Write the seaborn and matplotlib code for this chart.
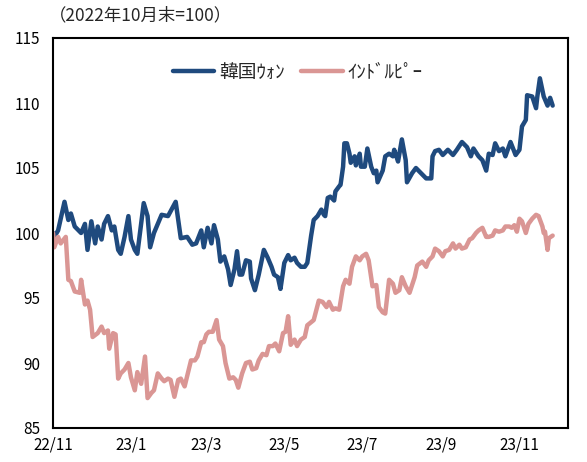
import matplotlib
matplotlib.use("Agg")
import matplotlib.pyplot as plt
import seaborn as sns
import pandas as pd

# ---- data (index, end of Oct 2022 = 100) ----
base_date = "2022-11-01"
won_day = [0, 1, 4, 9, 12, 14, 17, 20, 22, 25, 27, 30, 33, 35, 38, 40, 43, 46, 48, 51, 53, 56, 59, 61, 64,
           66, 69, 71, 74, 76, 79, 85, 90, 96, 100, 105, 109, 112, 116, 118, 121, 124, 126, 129, 131, 134,
           137, 139, 142, 144, 146, 148, 151, 154, 155, 158, 161, 165, 168, 171, 173, 176, 178, 181, 184,
           186, 189, 191, 194, 197, 199, 202, 204, 207, 210, 212, 213, 215, 217, 220, 221, 224, 225, 227,
           228, 230, 232, 233, 236, 237, 240, 241, 244, 246, 249, 251, 253, 254, 258, 260, 263, 266, 267,
           270, 273, 276, 277, 281, 284, 286, 289, 292, 296, 297, 299, 302, 305, 309, 313, 316, 320, 324,
           327, 329, 333, 336, 339, 341, 344, 346, 349, 352, 354, 358, 362, 365, 367, 370, 371, 375, 378,
           379, 381, 384, 387, 389, 391]
won_val = [100.0, 99.7, 100.2, 102.4, 101.0, 101.5, 100.5, 100.2, 100.0, 100.7, 98.7, 100.9, 99.2, 100.5,
           99.5, 100.7, 101.3, 100.2, 100.5, 98.7, 98.4, 99.7, 101.3, 99.5, 98.7, 98.4, 100.7, 102.3, 101.3,
           98.9, 100.0, 101.4, 101.3, 102.4, 99.6, 99.7, 99.1, 99.2, 100.2, 98.9, 100.4, 99.2, 100.6, 99.5,
           97.8, 98.2, 97.2, 96.0, 97.2, 98.6, 96.8, 96.8, 97.9, 97.8, 96.5, 95.6, 96.8, 98.7, 98.1, 97.4,
           96.8, 96.6, 95.7, 97.7, 98.3, 97.9, 98.1, 97.7, 97.4, 97.4, 97.7, 99.8, 101.0, 101.3, 101.8,
           101.4, 101.3, 102.7, 102.8, 102.5, 103.2, 103.6, 103.7, 105.1, 106.9, 106.9, 106.1, 105.4, 105.9,
           105.2, 106.1, 105.1, 105.1, 106.5, 105.1, 104.6, 104.8, 103.9, 104.8, 105.9, 106.1, 105.9, 106.4,
           105.5, 107.2, 105.6, 103.9, 104.6, 105.0, 104.8, 104.5, 104.2, 104.2, 105.9, 106.3, 106.4, 106.0,
           106.4, 106.0, 106.4, 107.0, 106.6, 105.9, 106.5, 105.9, 105.6, 104.8, 106.1, 106.0, 106.9, 106.3,
           106.5, 105.9, 107.0, 106.0, 106.4, 108.2, 108.7, 110.6, 110.5, 109.6, 110.5, 111.9, 110.5, 109.8,
           110.4, 109.8]

inr_day = [0, 1, 4, 6, 10, 12, 14, 17, 21, 22, 25, 27, 29, 31, 35, 38, 40, 43, 44, 47, 49, 51, 53, 56, 59,
           61, 64, 66, 69, 72, 74, 77, 79, 82, 85, 87, 90, 92, 95, 98, 100, 103, 105, 108, 111, 113, 116,
           118, 120, 122, 125, 128, 130, 133, 135, 138, 141, 143, 145, 148, 151, 154, 156, 159, 161, 164,
           167, 169, 172, 174, 177, 180, 182, 184, 186, 189, 191, 194, 197, 199, 204, 208, 211, 214, 216,
           219, 221, 224, 227, 229, 232, 234, 237, 240, 242, 245, 247, 250, 253, 255, 258, 260, 263, 266,
           268, 271, 273, 276, 279, 283, 285, 289, 292, 294, 297, 299, 302, 305, 307, 310, 313, 315, 318,
           320, 323, 326, 328, 331, 333, 336, 339, 341, 344, 346, 349, 352, 354, 357, 359, 361, 363, 365,
           367, 370, 372, 375, 378, 380, 383, 384, 385, 387, 388, 391]
inr_val = [100.0, 98.9, 99.7, 99.2, 99.7, 96.4, 96.3, 95.5, 95.4, 96.4, 94.5, 94.8, 94.1, 92.0, 92.3, 92.8,
           92.3, 92.5, 91.1, 92.3, 92.2, 88.8, 89.2, 89.5, 90.0, 88.9, 87.9, 89.3, 88.4, 90.5, 87.3, 87.7,
           87.9, 89.2, 88.8, 88.6, 88.8, 88.7, 87.4, 88.7, 88.8, 88.2, 89.0, 90.2, 90.2, 90.5, 91.6, 91.6,
           92.2, 92.4, 92.4, 93.3, 91.8, 91.3, 90.0, 88.8, 88.9, 88.7, 88.1, 89.2, 90.0, 90.1, 89.5, 89.6,
           90.2, 90.7, 90.6, 91.3, 91.3, 91.5, 90.9, 92.3, 92.4, 93.6, 91.4, 91.8, 91.3, 91.8, 92.0, 92.9,
           93.3, 94.8, 94.7, 94.3, 94.7, 94.1, 94.2, 94.1, 95.9, 96.4, 96.1, 97.4, 98.2, 97.9, 98.2, 98.4,
           97.9, 95.9, 96.0, 94.3, 93.9, 93.8, 96.4, 96.1, 95.4, 95.6, 96.6, 95.9, 95.4, 96.6, 97.5, 97.8,
           97.4, 97.9, 98.2, 98.8, 98.6, 98.2, 98.6, 98.7, 99.2, 98.8, 99.1, 98.8, 98.9, 99.5, 99.6, 100.0,
           100.2, 100.4, 99.7, 99.7, 99.8, 100.2, 100.1, 100.2, 100.5, 100.5, 100.4, 100.6, 100.1, 101.1,
           100.9, 100.0, 100.7, 101.1, 101.4, 101.3, 100.5, 100.0, 100.1, 98.7, 99.6, 99.8]

series_names = ["韓国ｳｫﾝ", "ｲﾝﾄﾞﾙﾋﾟｰ"]
series_colors = ["#1F4A7E", "#DA9694"]
tick_dates = ["2022-11-01", "2023-01-01", "2023-03-01", "2023-05-01", "2023-07-01", "2023-09-01", "2023-11-01"]
tick_labels = ["22/11", "23/1", "23/3", "23/5", "23/7", "23/9", "23/11"]
y_ticks = [85, 90, 95, 100, 105, 110, 115]
title_text = "（2022年10月末=100）"

# ---- build long table ----
t0 = pd.Timestamp(base_date)
df = pd.concat([
    pd.DataFrame({"date": t0 + pd.to_timedelta(won_day, unit="D"), "value": won_val, "series": series_names[0]}),
    pd.DataFrame({"date": t0 + pd.to_timedelta(inr_day, unit="D"), "value": inr_val, "series": series_names[1]}),
], ignore_index=True)

sns.set_style("white")
plt.rcParams["font.family"] = ["Noto Sans CJK JP", "DejaVu Sans"]

fig = plt.figure(figsize=(5.87, 4.62), dpi=100)
ax = fig.add_axes([53 / 587, 34 / 462, 515 / 587, 390 / 462])

sns.lineplot(data=df, x="date", y="value", hue="series", hue_order=series_names,
             palette=series_colors, linewidth=3.2, estimator=None, ax=ax,
             solid_joinstyle="round", solid_capstyle="round")

ax.set_xlim(pd.Timestamp("2022-11-01"), pd.Timestamp("2023-12-09"))
ax.set_ylim(85, 115)
ax.set_xticks(pd.to_datetime(tick_dates))
ax.set_xticklabels(tick_labels)
ax.set_yticks(y_ticks)
ax.set_yticklabels([str(v) for v in y_ticks])
ax.set_xlabel("")
ax.set_ylabel("")
ax.tick_params(axis="both", direction="in", length=4, width=1, colors="black", labelsize=11)
ax.tick_params(axis="y", pad=9)
ax.tick_params(axis="x", pad=6)
for s in ax.spines.values():
    s.set_visible(True)
    s.set_color("black")
    s.set_linewidth(1.5)

handles, labels = ax.get_legend_handles_labels()
ax.legend(handles, labels, loc="center", bbox_to_anchor=(297.5 / 587, 1 - 72 / 462),
          bbox_transform=fig.transFigure, ncol=2, frameon=False, fontsize=13.5,
          handlelength=2.2, handletextpad=0.25, columnspacing=0.9)

fig.text(49 / 587, 1 - 15 / 462, title_text, ha="left", va="center", fontsize=12.5)

fig.savefig("out.png", dpi=100)
